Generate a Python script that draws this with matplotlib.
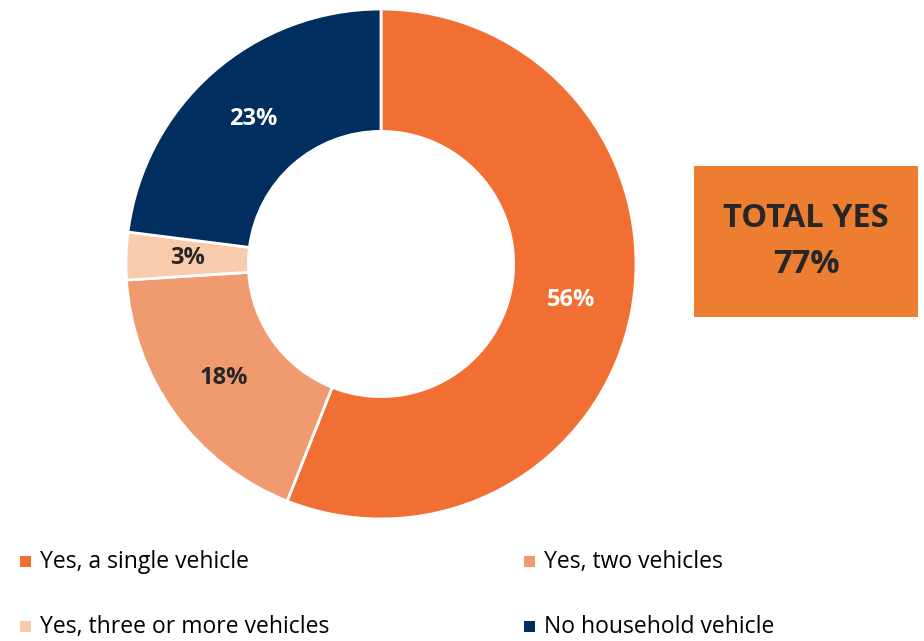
import matplotlib
matplotlib.use("Agg")
import matplotlib.pyplot as plt
from matplotlib.patches import Rectangle

plt.rcParams['font.family'] = ['Open Sans', 'DejaVu Sans']

labels = ["Yes, a single vehicle", "Yes, two vehicles",
          "Yes, three or more vehicles", "No household vehicle"]
values = [56, 18, 3, 23]
colors = ["#F26F33", "#F09A70", "#F8CBAD", "#002F5F"]
label_colors = ["white", "#262626", "#262626", "white"]
total_yes = 77

W, H = 924, 641
fig = plt.figure(figsize=(W / 100, H / 100), dpi=100)

# donut: centre (381, 264) px, radius 255 px
cx, cy, r = 381, 264, 255
ax = fig.add_axes([(cx - r) / W, (H - cy - r) / H, 2 * r / W, 2 * r / H])
wedges, texts, autotexts = ax.pie(
    values, colors=colors, startangle=90, counterclock=False,
    radius=1.0, autopct=lambda p: "%d%%" % round(p), pctdistance=0.76,
    wedgeprops=dict(width=0.48, edgecolor="white", linewidth=2),
)
for t, c in zip(autotexts, label_colors):
    t.set_color(c)
    t.set_fontsize(17)
    t.set_fontweight("bold")
ax.set_xlim(-1, 1)
ax.set_ylim(-1, 1)
ax.set_aspect("equal")

# total box
bx0, by0, bx1, by1 = 694, 166, 918, 317
fig.add_artist(Rectangle((bx0 / W, 1 - by1 / H), (bx1 - bx0) / W, (by1 - by0) / H,
                         transform=fig.transFigure, facecolor="#ED7D31", edgecolor="none"))
fig.text((bx0 + bx1) / 2 / W, 1 - (by0 + by1) / 2 / H, "TOTAL YES\n%d%%" % total_yes,
         ha="center", va="center", fontsize=23.5, fontweight="bold", color="#262626",
         linespacing=1.55)

# legend
col_x = [20, 524]
row_y = [562, 627]
for i, (lab, c) in enumerate(zip(labels, colors)):
    x = col_x[i % 2]
    y = row_y[i // 2]
    fig.add_artist(Rectangle((x / W, 1 - (y + 5) / H), 11 / W, 11 / H,
                             transform=fig.transFigure, facecolor=c, edgecolor="none"))
    fig.text((x + 20) / W, 1 - y / H, lab, ha="left", va="center",
             fontsize=16.5, color="#000000")

fig.savefig("out.png", dpi=100)
